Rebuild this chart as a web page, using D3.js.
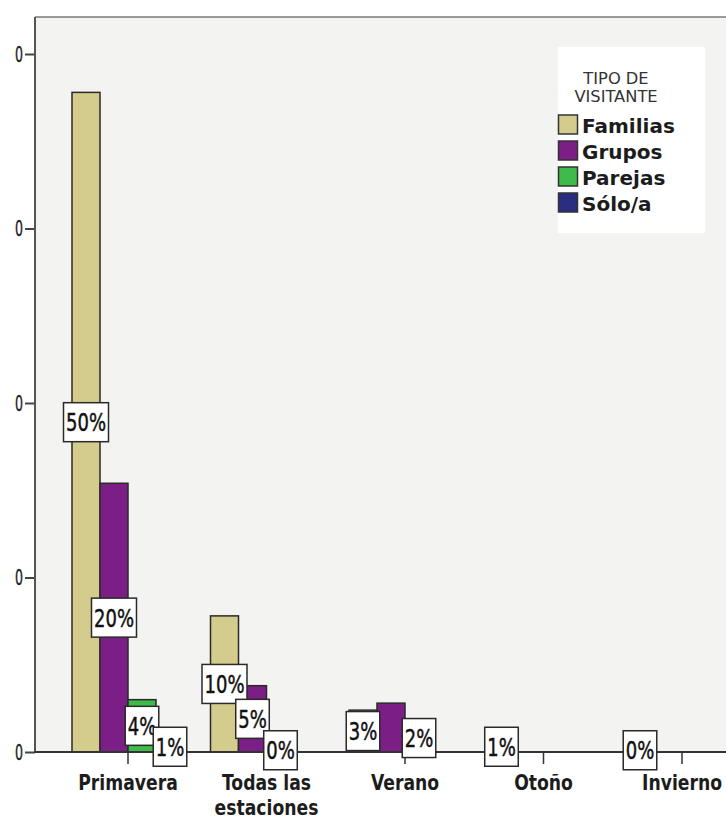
<!DOCTYPE html>
<html>
<head>
<meta charset="utf-8">
<script src="https://cdn.jsdelivr.net/npm/d3@7"></script>
<style>
  html, body { margin: 0; padding: 0; background: #ffffff; }
  svg { display: block; }
</style>
</head>
<body>
<svg id="chart" width="726" height="821"></svg>
<script>
// Visitor counts per season, one array per visitor type
const categories = ["Primavera", "Todas las estaciones", "Verano", "Otoño", "Invierno"];
const categoryLines = [["Primavera"], ["Todas las", "estaciones"], ["Verano"], ["Otoño"], ["Invierno"]];
const series = ["Familias", "Grupos", "Parejas", "Sólo/a"];
const familias = [189, 39, 12, 3, 1];
const grupos   = [77, 19, 14, 0, 0];
const parejas  = [15, 1, 8, 0, 0];
const solo     = [3, 0, 0, 0, 0];
const yTicks = [0, 50, 100, 150, 200];
const legendTitle = ["TIPO DE", "VISITANTE"];
// labels SPSS suppressed because they collided with neighbours
const hiddenLabels = [["Grupos", "Verano"]];

const seriesValues = [familias, grupos, parejas, solo];
const colors = ["#d4cc8d", "#7b1f86", "#3ebb4b", "#2b2e80"];
const total = d3.sum(seriesValues.flat());

const rows = [];
seriesValues.forEach((vals, si) => {
  vals.forEach((v, ci) => rows.push({ serie: series[si], cat: categories[ci], value: v, color: colors[si] }));
});

const svg = d3.select("#chart");
const W = 726, H = 821;
const plot = { left: 35, top: 17, right: 760, bottom: 752 };

const x0 = d3.scaleBand().domain(categories).range([58.75, 751.25]).paddingInner(0).paddingOuter(0);
const x1 = d3.scaleBand().domain(series).range([-56, 56]);
const y = d3.scaleLinear().domain([0, 200]).range([752, 54]);

const FONT = "'DejaVu Sans', Verdana, sans-serif";

function scaledText(g, x, yy, txt, sx) {
  return g.append("text")
    .attr("transform", `translate(${x},${yy}) scale(${sx},1)`)
    .text(txt);
}

// the page edge trims the tick labels down to their last digit
svg.append("defs").append("clipPath").attr("id", "tick-clip")
  .append("rect").attr("x", 15).attr("y", 0).attr("width", 20).attr("height", H);

// plot background and frame
svg.append("rect")
  .attr("x", plot.left).attr("y", plot.top)
  .attr("width", plot.right - plot.left).attr("height", plot.bottom - plot.top)
  .attr("fill", "#f3f3f1");
svg.append("line")
  .attr("x1", plot.left).attr("x2", W).attr("y1", plot.top).attr("y2", plot.top)
  .attr("stroke", "#7a7a7a").attr("stroke-width", 1.5);

// bars
const bars = svg.append("g");
bars.selectAll("rect")
  .data(rows.filter(d => d.value > 0))
  .join("rect")
  .attr("x", d => x0(d.cat) + x0.bandwidth() / 2 + x1(d.serie))
  .attr("width", x1.bandwidth())
  .attr("y", d => y(d.value))
  .attr("height", d => y(0) - y(d.value))
  .attr("fill", d => d.color)
  .attr("stroke", "#2a2a2a")
  .attr("stroke-width", 1.5);

// y axis
const yAxis = svg.append("g")
  .attr("transform", `translate(${plot.left},0)`)
  .call(d3.axisLeft(y).tickValues(yTicks).tickSize(10).tickFormat(""));
yAxis.select(".domain").remove();
yAxis.selectAll(".tick line").attr("stroke", "#444").attr("stroke-width", 2);
const yLabels = svg.append("g").attr("clip-path", "url(#tick-clip)")
  .attr("font-family", FONT).attr("font-size", 21).attr("fill", "#222")
  .attr("stroke", "#222").attr("stroke-width", 0.4)
  .attr("text-anchor", "end");
yTicks.forEach(v => {
  scaledText(yLabels, 23, y(v) + 7.5, d3.format("d")(v), 0.6);
});
svg.append("line")
  .attr("x1", plot.left).attr("x2", plot.left).attr("y1", plot.top).attr("y2", plot.bottom)
  .attr("stroke", "#555").attr("stroke-width", 2);

// x axis
const xAxis = svg.append("g")
  .attr("transform", `translate(0,${plot.bottom})`)
  .call(d3.axisBottom(x0).tickSize(12).tickFormat(""));
xAxis.select(".domain").remove();
xAxis.selectAll(".tick line").attr("stroke", "#333").attr("stroke-width", 1.5);
svg.append("line")
  .attr("x1", plot.left).attr("x2", W).attr("y1", plot.bottom).attr("y2", plot.bottom)
  .attr("stroke", "#333").attr("stroke-width", 2);

const catLabels = svg.append("g")
  .attr("font-family", FONT).attr("font-size", 21).attr("font-weight", "bold")
  .attr("fill", "#1c1c1c").attr("text-anchor", "middle");
categories.forEach((c, i) => {
  const cx = x0(c) + x0.bandwidth() / 2;
  categoryLines[i].forEach((line, li) => {
    scaledText(catLabels, cx, 790 + li * 25, line, 0.82);
  });
});

// percentage labels at the middle of each bar
const isHidden = d => hiddenLabels.some(h => h[0] === d.serie && h[1] === d.cat);
const labels = svg.append("g")
  .attr("font-family", FONT).attr("font-size", 25).attr("fill", "#111")
  .attr("stroke", "#111").attr("stroke-width", 0.5);
rows.filter(d => d.value > 0 && !isHidden(d)).forEach(d => {
  const cx = x0(d.cat) + x0.bandwidth() / 2 + x1(d.serie) + x1.bandwidth() / 2;
  const cy = (y(d.value) + y(0)) / 2;
  const txt = Math.round(d.value / total * 100) + "%";
  const g = labels.append("g");
  const box = g.append("rect");
  const t = scaledText(g, cx, cy + 9, txt, 0.72).attr("text-anchor", "middle");
  const w = t.node().getBBox().width * 0.72 + 5;
  box.attr("x", cx - w / 2).attr("y", cy - 19.5)
    .attr("width", w).attr("height", 39)
    .attr("fill", "#ffffff").attr("stroke", "#2a2a2a").attr("stroke-width", 1.5);
});

// legend
const legend = svg.append("g");
legend.append("rect")
  .attr("x", 558).attr("y", 47).attr("width", 147).attr("height", 186)
  .attr("fill", "#ffffff");
const lt = legend.append("g")
  .attr("font-family", FONT).attr("font-size", 15.5).attr("fill", "#333")
  .attr("text-anchor", "middle");
legendTitle.forEach((line, i) => scaledText(lt, 616, 84 + i * 18, line, 1.05));
series.forEach((s, i) => {
  const top = 115 + i * 26;
  legend.append("rect")
    .attr("x", 558.5).attr("y", top).attr("width", 19).attr("height", 19)
    .attr("fill", colors[i]).attr("stroke", "#333").attr("stroke-width", 1.5);
  legend.append("text")
    .attr("x", 582).attr("y", top + 18)
    .attr("font-family", FONT).attr("font-size", 20).attr("font-weight", "bold")
    .attr("fill", "#1c1c1c")
    .text(s);
});
</script>
</body>
</html>
